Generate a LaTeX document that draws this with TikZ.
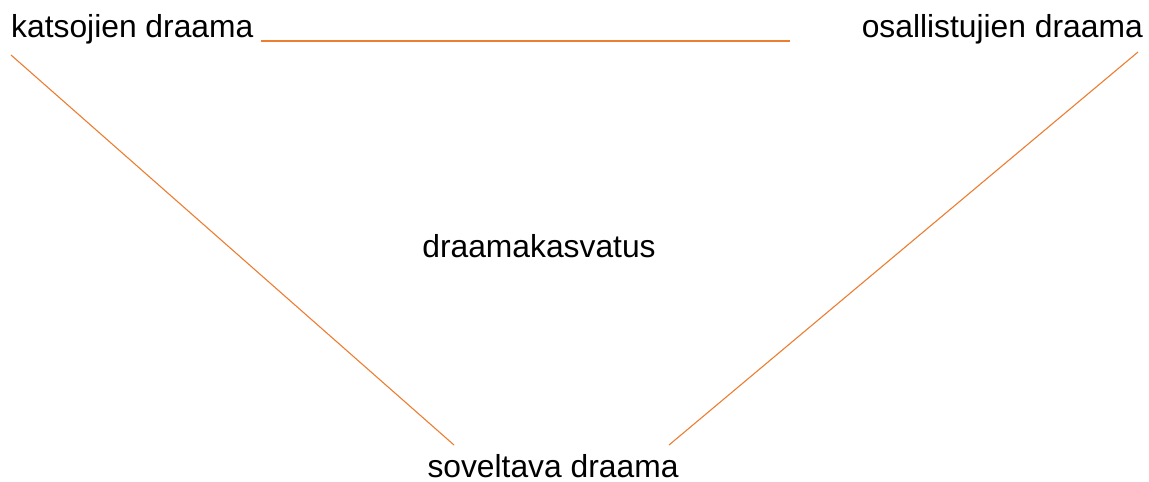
\documentclass[tikz,border=0pt]{standalone}
\usepackage{fontspec}
\setmainfont{Liberation Sans}
\definecolor{linkorange}{HTML}{ED7D31}
\begin{document}
\begin{tikzpicture}[x=1pt,y=-1pt,
  label text/.style={inner sep=0pt, font=\fontsize{31.8}{37}\selectfont},
  thin link/.style={draw=linkorange, line width=1.1pt},
  thick link/.style={draw=linkorange, line width=2pt}]
  \useasboundingbox (0,0) rectangle (1149,482);
  % labels
  \node[label text, anchor=base west] (katsojat) at (11,37) {katsojien draama};
  \node[label text, anchor=base east] (osallistujat) at (1143,37) {osallistujien draama};
  \node[label text, anchor=base] (kasvatus) at (539,257) {draamakasvatus};
  \node[label text, anchor=base] (soveltava) at (553,477) {soveltava draama};
  % line end points
  \coordinate (topA) at (261,40.5);
  \coordinate (topB) at (790,40.5);
  \coordinate (leftTop) at (11,55);
  \coordinate (leftBot) at (454,445);
  \coordinate (rightTop) at (1138,52);
  \coordinate (rightBot) at (669,445);
  % connectors
  \draw[thick link] (topA) -- (topB);
  \draw[thin link] (leftTop) -- (leftBot);
  \draw[thin link] (rightTop) -- (rightBot);
\end{tikzpicture}
\end{document}
